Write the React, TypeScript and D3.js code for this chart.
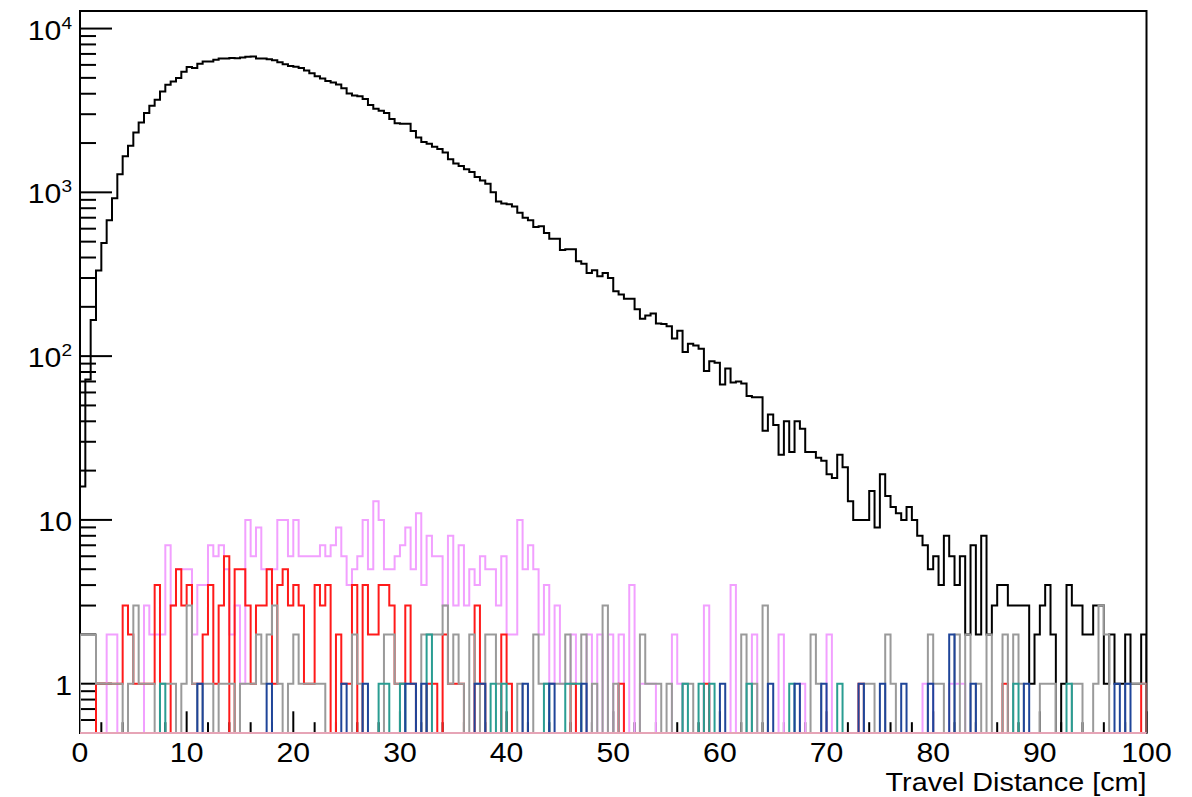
import React from 'react';
import * as d3 from 'd3';

// ---- data: 200 bins of 0.5 cm from 0 to 100 cm ----
const binEdges = d3.range(0, 100.0001, 0.5);

const totalCounts = [
  16, 72, 166, 333, 491, 675, 919, 1288, 1660, 1927, 2322, 2673, 3050, 3380, 3675, 4130, 4540, 4755, 4985, 5450,
  5820, 5740, 6095, 6300, 6300, 6445, 6560, 6560, 6600, 6580, 6650, 6720, 6750, 6560, 6560, 6500, 6400, 6230, 6060, 5910,
  5850, 5740, 5550, 5330, 5120, 4960, 4780, 4680, 4560, 4325, 4010, 3900, 3860, 3710, 3420, 3240, 3150, 3050, 2800, 2640,
  2620, 2620, 2370, 2160, 2030, 1980, 1900, 1840, 1750, 1590, 1500, 1450, 1385, 1330, 1240, 1180, 1130, 1000, 880, 855,
  845, 820, 750, 700, 675, 615, 620, 565, 520, 520, 445, 450, 450, 380, 367, 322, 335, 307, 322, 300,
  249, 238, 224, 224, 193, 169, 177, 182, 158, 157, 152, 128, 143, 106, 119, 116, 111, 81, 93, 91,
  67, 84, 69, 70, 68, 57, 56, 56, 35, 44, 38, 25, 40, 26, 40, 36, 26, 26, 24, 23,
  19, 18, 25, 21, 13, 10, 10, 10, 15, 9, 19, 14, 12, 11, 10, 12, 10, 8, 7, 5,
  6, 4, 8, 6, 4, 6, 2, 7, 2, 8, 2, 3, 4, 4, 3, 3, 3, 3, 1, 2,
  3, 4, 2, 0, 1, 4, 3, 3, 2, 2, 3, 3, 1, 2, 1, 1, 2, 1, 1, 2,
];

const violetCounts = [
  0, 0, 0, 0, 0, 2, 2, 0, 0, 0, 0, 0, 3, 2, 2, 2, 7, 3, 5, 5,
  5, 2, 4, 4, 7, 6, 7, 5, 2, 3, 1, 10, 6, 9, 5, 5, 5, 10, 10, 6,
  10, 6, 6, 6, 6, 7, 6, 7, 9, 6, 4, 5, 6, 10, 5, 13, 10, 5, 5, 6,
  7, 9, 5, 11, 4, 8, 6, 6, 3, 8, 3, 7, 3, 5, 4, 6, 5, 5, 3, 6,
  2, 2, 10, 5, 7, 5, 2, 4, 1, 3, 1, 1, 2, 0, 0, 2, 0, 2, 0, 2,
  0, 2, 0, 4, 0, 1, 1, 1, 0, 0, 0, 2, 1, 0, 0, 0, 0, 3, 0, 0,
  0, 0, 4, 0, 0, 0, 2, 0, 0, 0, 0, 2, 0, 0, 0, 1, 0, 0, 0, 0,
  2, 0, 0, 0, 0, 0, 0, 0, 0, 0, 0, 0, 0, 0, 0, 0, 0, 0, 1, 1,
  0, 0, 0, 1, 1, 1, 0, 0, 0, 0, 0, 0, 0, 0, 0, 0, 0, 0, 0, 0,
  0, 0, 0, 0, 0, 0, 0, 0, 0, 0, 0, 0, 0, 0, 0, 0, 0, 0, 0, 0,
];

const redCounts = [
  0, 0, 0, 1, 1, 1, 1, 1, 3, 2, 1, 1, 1, 1, 4, 0, 0, 3, 5, 3,
  4, 1, 1, 2, 4, 1, 3, 6, 0, 5, 5, 3, 1, 3, 3, 5, 1, 4, 5, 3,
  4, 3, 1, 1, 4, 3, 4, 0, 2, 1, 1, 4, 0, 4, 2, 2, 4, 4, 3, 1,
  1, 3, 1, 0, 0, 1, 1, 0, 2, 1, 1, 1, 0, 0, 3, 1, 0, 0, 0, 2,
  1, 0, 0, 0, 0, 0, 0, 0, 0, 0, 0, 0, 1, 0, 0, 0, 0, 0, 0, 0,
  0, 1, 0, 0, 0, 0, 0, 0, 0, 0, 0, 0, 0, 0, 0, 0, 0, 1, 0, 0,
  0, 0, 0, 0, 0, 0, 0, 0, 0, 0, 0, 0, 0, 0, 0, 0, 0, 0, 0, 0,
  0, 0, 0, 0, 0, 0, 1, 0, 0, 0, 0, 0, 0, 0, 0, 0, 0, 0, 0, 0,
  0, 0, 0, 0, 0, 0, 0, 0, 0, 0, 0, 0, 0, 1, 0, 0, 0, 0, 0, 0,
  0, 0, 0, 0, 0, 0, 0, 0, 0, 0, 0, 0, 0, 0, 0, 0, 0, 0, 0, 1,
];

const greyCounts = [
  2, 2, 2, 1, 1, 1, 1, 1, 0, 1, 3, 1, 1, 1, 0, 1, 1, 1, 0, 1,
  3, 1, 0, 1, 1, 0, 1, 1, 1, 0, 1, 1, 1, 2, 1, 2, 3, 1, 0, 1,
  2, 1, 1, 1, 1, 1, 0, 0, 0, 0, 0, 2, 1, 0, 0, 0, 0, 2, 2, 1,
  1, 0, 0, 0, 2, 2, 2, 2, 3, 1, 2, 1, 0, 2, 1, 0, 2, 2, 1, 0,
  0, 0, 1, 0, 0, 2, 1, 1, 1, 1, 1, 2, 0, 0, 2, 0, 1, 0, 3, 0,
  1, 0, 0, 0, 0, 2, 1, 1, 1, 0, 1, 0, 0, 1, 1, 0, 0, 0, 0, 0,
  0, 0, 0, 0, 2, 0, 1, 0, 3, 0, 0, 0, 0, 0, 0, 0, 0, 2, 1, 0,
  0, 0, 0, 0, 0, 0, 0, 1, 1, 0, 0, 2, 1, 0, 0, 0, 0, 0, 0, 2,
  1, 1, 0, 0, 2, 0, 2, 0, 1, 0, 2, 0, 0, 2, 0, 2, 1, 0, 0, 0,
  1, 1, 1, 0, 0, 0, 1, 1, 0, 0, 1, 3, 2, 0, 0, 0, 1, 1, 1, 1,
];

const tealCounts = [
  0, 0, 0, 0, 0, 0, 0, 0, 0, 0, 0, 0, 0, 0, 0, 1, 0, 0, 0, 0,
  0, 0, 0, 0, 0, 0, 0, 0, 0, 0, 0, 0, 0, 0, 0, 0, 0, 0, 0, 0,
  0, 0, 0, 0, 0, 0, 0, 0, 0, 0, 0, 0, 0, 0, 0, 0, 1, 1, 0, 0,
  1, 0, 0, 0, 0, 2, 0, 0, 0, 0, 0, 0, 0, 0, 0, 0, 0, 1, 0, 1,
  0, 0, 0, 0, 0, 0, 0, 1, 0, 0, 0, 1, 1, 1, 0, 0, 0, 0, 0, 0,
  0, 0, 0, 0, 0, 0, 0, 0, 0, 0, 0, 0, 0, 1, 0, 0, 1, 0, 1, 0,
  0, 0, 0, 0, 0, 1, 0, 0, 0, 0, 0, 0, 0, 1, 0, 0, 0, 0, 0, 0,
  0, 0, 1, 0, 0, 0, 0, 0, 0, 0, 0, 0, 0, 0, 0, 0, 0, 0, 0, 0,
  0, 0, 0, 0, 0, 0, 0, 0, 0, 0, 0, 0, 0, 0, 0, 1, 0, 0, 0, 0,
  0, 0, 0, 0, 0, 1, 0, 0, 0, 0, 0, 0, 0, 0, 0, 0, 0, 0, 0, 0,
];

const blueCounts = [
  0, 0, 0, 0, 0, 0, 0, 0, 0, 0, 0, 0, 0, 0, 0, 0, 0, 0, 0, 0,
  0, 0, 1, 0, 0, 0, 0, 0, 0, 0, 0, 0, 0, 0, 0, 1, 0, 0, 0, 0,
  0, 0, 0, 0, 0, 0, 0, 0, 0, 1, 0, 0, 0, 1, 0, 0, 0, 0, 0, 0,
  0, 1, 1, 0, 1, 0, 0, 0, 0, 0, 0, 0, 0, 0, 1, 1, 0, 0, 0, 0,
  0, 0, 0, 1, 0, 0, 0, 0, 1, 0, 0, 0, 0, 0, 1, 0, 0, 0, 0, 0,
  0, 0, 0, 0, 0, 0, 0, 0, 0, 0, 0, 0, 0, 0, 0, 0, 0, 0, 0, 0,
  1, 0, 0, 0, 0, 0, 0, 0, 0, 1, 0, 0, 0, 0, 1, 0, 0, 0, 0, 1,
  0, 0, 0, 0, 0, 0, 1, 0, 0, 0, 1, 0, 0, 0, 1, 0, 0, 0, 0, 1,
  0, 0, 0, 2, 0, 0, 0, 1, 0, 0, 0, 0, 0, 0, 0, 0, 0, 1, 0, 0,
  0, 0, 0, 0, 0, 0, 0, 0, 0, 0, 0, 0, 0, 0, 1, 0, 1, 0, 0, 0,
];

const yTickDecades = [0, 1, 2, 3, 4];
const xTickLabels = [0, 10, 20, 30, 40, 50, 60, 70, 80, 90, 100];
const xAxisTitle = 'Travel Distance [cm]';

const seriesList = [
  { name: 'total', counts: totalCounts, color: '#000000' },
  { name: 'violet', counts: violetCounts, color: '#f2a0ff' },
  { name: 'red', counts: redCounts, color: '#ff1a1a' },
  { name: 'grey', counts: greyCounts, color: '#9a9a9a' },
  { name: 'teal', counts: tealCounts, color: '#2a9d92' },
  { name: 'blue', counts: blueCounts, color: '#1f4599' },
];

const FRAME = { left: 80, right: 1146.5, top: 11, bottom: 733 };

export default function App() {
  const x = d3.scaleLinear().domain([0, 100]).range([FRAME.left, FRAME.right]);
  const y = d3.scaleLog().domain([0.5, 12800]).range([FRAME.bottom, FRAME.top]);

  const yv = (v: number) => (v > 0 ? y(v) : FRAME.bottom);
  const line = d3
    .line<[number, number]>()
    .x((d) => x(d[0]))
    .y((d) => yv(d[1]))
    .curve(d3.curveStepAfter);

  const makePath = (counts: number[]) => {
    const pts: [number, number][] = [[binEdges[0], 0]];
    counts.forEach((c, i) => pts.push([binEdges[i], c]));
    pts.push([binEdges[counts.length], counts[counts.length - 1]]);
    pts.push([binEdges[counts.length], 0]);
    return line(pts) || '';
  };

  const majorLen = 32;
  const minorLen = 16;
  const yMinor: number[] = [];
  [0.1, 1, 10, 100, 1000, 10000].forEach((dec) => {
    for (let k = 2; k <= 9; k++) {
      const v = dec * k;
      if (v > 0.5 && v <= 12800) yMinor.push(v);
    }
  });

  const xMajorLen = 21.7;
  const xMinorLen = 10.8;
  const xMinor = d3.range(0, 100.001, 2).filter((v) => Math.round(v) % 10 !== 0);

  const font = '"Liberation Sans", Arial, Helvetica, sans-serif';
  const SX = 1.12; // horizontal stretch of the reference's text

  return (
    <svg width={1192} height={797} style={{ display: 'block', position: 'absolute', left: 0, top: 0, background: '#fff' }}>
      <defs>
        <clipPath id="frameClip">
          <rect x={FRAME.left} y={FRAME.top} width={FRAME.right - FRAME.left} height={FRAME.bottom - FRAME.top} />
        </clipPath>
      </defs>
      <rect x={0} y={0} width={1192} height={797} fill="#fff" />

      {/* axis ticks */}
      <g stroke="#000" strokeWidth={2}>
        {yTickDecades.map((p) => (
          <line key={'ym' + p} x1={FRAME.left} x2={FRAME.left + majorLen} y1={y(Math.pow(10, p))} y2={y(Math.pow(10, p))} />
        ))}
        {yMinor.map((v, i) => (
          <line key={'yn' + i} x1={FRAME.left} x2={FRAME.left + minorLen} y1={y(v)} y2={y(v)} />
        ))}
        {xTickLabels.map((v) => (
          <line key={'xm' + v} x1={x(v)} x2={x(v)} y1={FRAME.bottom} y2={FRAME.bottom - xMajorLen} />
        ))}
        {xMinor.map((v) => (
          <line key={'xn' + v} x1={x(v)} x2={x(v)} y1={FRAME.bottom} y2={FRAME.bottom - xMinorLen} />
        ))}
      </g>

      {/* frame */}
      <rect
        x={FRAME.left}
        y={FRAME.top}
        width={FRAME.right - FRAME.left}
        height={FRAME.bottom - FRAME.top}
        fill="none"
        stroke="#000"
        strokeWidth={2}
      />

      {/* histograms */}
      <g clipPath="url(#frameClip)" fill="none" strokeWidth={2} strokeLinejoin="miter">
        {seriesList.map((s) => (
          <path key={s.name} d={makePath(s.counts)} stroke={s.color} />
        ))}
      </g>
      <line x1={FRAME.left} x2={FRAME.right} y1={FRAME.bottom} y2={FRAME.bottom} stroke="#e6a4b6" strokeWidth={2} />

      {/* y labels */}
      <g fontFamily={font} fontSize={27} fill="#000">
        {yTickDecades.map((p) => (
          <text
            key={'yl' + p}
            transform={`translate(72,${y(Math.pow(10, p)) + 11}) scale(${SX},1)`}
            textAnchor="end"
          >
            {p === 0 ? '1' : '10'}
            {p >= 2 ? (
              <tspan fontSize={17} dy={-11}>
                {p}
              </tspan>
            ) : null}
          </text>
        ))}
      </g>

      {/* x labels */}
      <g fontFamily={font} fill="#000" textAnchor="middle">
        {xTickLabels.map((v) => (
          <text key={'xl' + v} fontSize={27} transform={`translate(${x(v)},762) scale(${SX},1)`}>
            {v}
          </text>
        ))}
        <text transform={`translate(${FRAME.right},791) scale(1.15,1)`} textAnchor="end" fontSize={25}>
          {xAxisTitle}
        </text>
      </g>
    </svg>
  );
}
